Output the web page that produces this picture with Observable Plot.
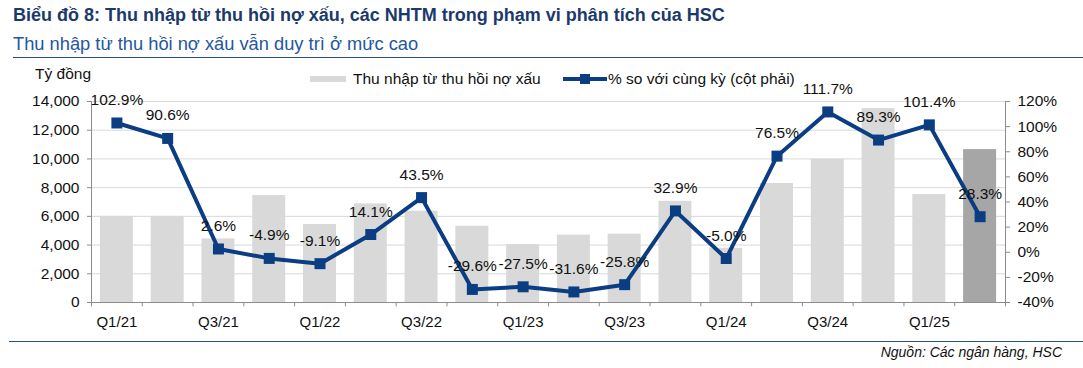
<!DOCTYPE html>
<html>
<head>
<meta charset="utf-8">
<script src="https://cdn.jsdelivr.net/npm/d3@7"></script>
<script src="https://cdn.jsdelivr.net/npm/@observablehq/plot@0.6"></script>
<style>
  html, body { margin: 0; padding: 0; background: #fff; }
  #wrap { position: relative; width: 1083px; height: 368px; font-family: "Liberation Sans", Arial, sans-serif; overflow: hidden; }
  #wrap svg.plot { position: absolute; left: 0; top: 0; }
  .abs { position: absolute; white-space: nowrap; }
  #title { left: 13px; top: 5px; font-size: 18px; font-weight: bold; color: #1b3a6b; }
  #subtitle { left: 13px; top: 33px; font-size: 18.3px; color: #2356a0; }
  #topline { left: 13px; top: 57px; width: 1070px; height: 0; border-top: 1.5px solid #2b4f80; }
  #botline { left: 9px; top: 341px; width: 1074px; height: 0; border-top: 1.5px solid #2b4f80; }
  #unit { left: 35px; top: 65px; font-size: 15.5px; color: #111; }
  #caption { right: 21px; top: 344px; font-size: 14px; font-style: italic; color: #111; }
  .leg { top: 70px; font-size: 15.5px; color: #111; display: flex; align-items: center; }
</style>
</head>
<body>
<div id="wrap">
  <div class="abs" id="title">Biểu đồ 8: Thu nhập từ thu hồi nợ xấu, các NHTM trong phạm vi phân tích của HSC</div>
  <div class="abs" id="subtitle">Thu nhập từ thu hồi nợ xấu vẫn duy trì ở mức cao</div>
  <div class="abs" id="topline"></div>
  <div class="abs" id="unit">Tỷ đồng</div>
  <div class="abs leg" style="left:310px"><svg width="36" height="8" style="margin-right:7px"><rect x="0" y="1" width="36" height="6" fill="#d9d9d9"/></svg>Thu nhập từ thu hồi nợ xấu</div>
  <div class="abs leg" style="left:563px"><svg width="44" height="12" style="margin-right:1px"><line x1="0" y1="6" x2="44" y2="6" stroke="#0a3d82" stroke-width="4"/><rect x="17" y="1" width="10" height="10" fill="#0a3d82"/></svg>% so với cùng kỳ (cột phải)</div>
  <div class="abs" id="botline"></div>
  <div class="abs" id="caption">Nguồn: Các ngân hàng, HSC</div>
</div>
<script>
const quarters = ["Q1/21","Q2/21","Q3/21","Q4/21","Q1/22","Q2/22","Q3/22","Q4/22","Q1/23","Q2/23","Q3/23","Q4/23","Q1/24","Q2/24","Q3/24","Q4/24","Q1/25","Q2/25"];
const income = [6000,6000,4430,7450,5430,6870,6360,5310,4040,4690,4760,7050,3780,8290,9980,13500,7520,10650];
const yoy = [102.9,90.6,2.6,-4.9,-9.1,14.1,43.5,-29.6,-27.5,-31.6,-25.8,32.9,-5.0,76.5,111.7,89.3,101.4,28.3];
const xTickLabels = ["Q1/21","Q3/21","Q1/22","Q3/22","Q1/23","Q3/23","Q1/24","Q3/24","Q1/25"];
const leftTicks = [0,2000,4000,6000,8000,10000,12000,14000];
const rightTicks = [-40,-20,0,20,40,60,80,100,120];

const W = 1083, H = 368, mL = 91, mR = 78, mT = 101, mB = 66;
const yMax = 14000, pMin = -40, pMax = 120;
const toY = p => (p - pMin) / (pMax - pMin) * yMax;
const step = (W - mL - mR) / quarters.length;
const inset = step * 0.175;
const rows = quarters.map((q, i) => ({q, v: income[i], p: yoy[i], last: i === quarters.length - 1}));
const axisGray = "#8c8c8c";
const blue = "#0a3d82";

const chart = Plot.plot({
  width: W, height: H,
  marginLeft: mL, marginRight: mR, marginTop: mT, marginBottom: mB,
  style: {fontFamily: '"Liberation Sans", Arial, sans-serif', fontSize: "15px", color: "#111", background: "transparent", overflow: "visible"},
  x: {type: "band", domain: quarters, padding: 0, round: false, axis: null},
  y: {domain: [0, yMax], axis: null},
  marks: [
    Plot.ruleY(leftTicks.slice(1), {stroke: "#d9d9d9", strokeWidth: 1}),
    Plot.barY(rows, {x: "q", y: "v", insetLeft: inset, insetRight: inset, fill: d => d.last ? "#a6a6a6" : "#d9d9d9"}),
    Plot.ruleY([0], {stroke: axisGray, strokeWidth: 1}),
    Plot.ruleX([quarters[0]], {x: d => d, y1: 0, y2: yMax, dx: -step / 2, stroke: axisGray}),
    Plot.ruleX([quarters[quarters.length - 1]], {x: d => d, y1: 0, y2: yMax, dx: step / 2, stroke: axisGray}),
    Plot.ruleX(quarters, {x: d => d, y1: 0, y2: -300, dx: -step / 2, stroke: axisGray}),
    Plot.ruleX([quarters[quarters.length - 1]], {x: d => d, y1: 0, y2: -300, dx: step / 2, stroke: axisGray}),
    Plot.axisY(leftTicks, {anchor: "left", label: null, tickSize: 4, tickPadding: 8, stroke: axisGray, tickFormat: d => d3.format(",")(d), fontSize: 15.5, fill: "#111"}),
    Plot.axisY(rightTicks.map(toY), {anchor: "right", label: null, tickSize: 4, tickPadding: 8, stroke: axisGray, tickFormat: d => Math.round(d / yMax * (pMax - pMin) + pMin) + "%", fontSize: 15.5, fill: "#111"}),
    Plot.axisX(xTickLabels, {anchor: "bottom", label: null, tickSize: 0, tickPadding: 14, fontSize: 15, fill: "#111"}),
    Plot.line(rows, {x: "q", y: d => toY(d.p), stroke: blue, strokeWidth: 4, strokeLinejoin: "miter"}),
    Plot.dot(rows, {x: "q", y: d => toY(d.p), symbol: "square", r: 6.2, fill: blue, stroke: "none"}),
    Plot.text(rows, {x: "q", y: d => toY(d.p), text: d => d.p.toFixed(1) + "%", dy: -23, fontSize: 15.5, fill: "#111"})
  ]
});
chart.classList.add("plot");
document.getElementById("wrap").prepend(chart);
</script>
</body>
</html>
